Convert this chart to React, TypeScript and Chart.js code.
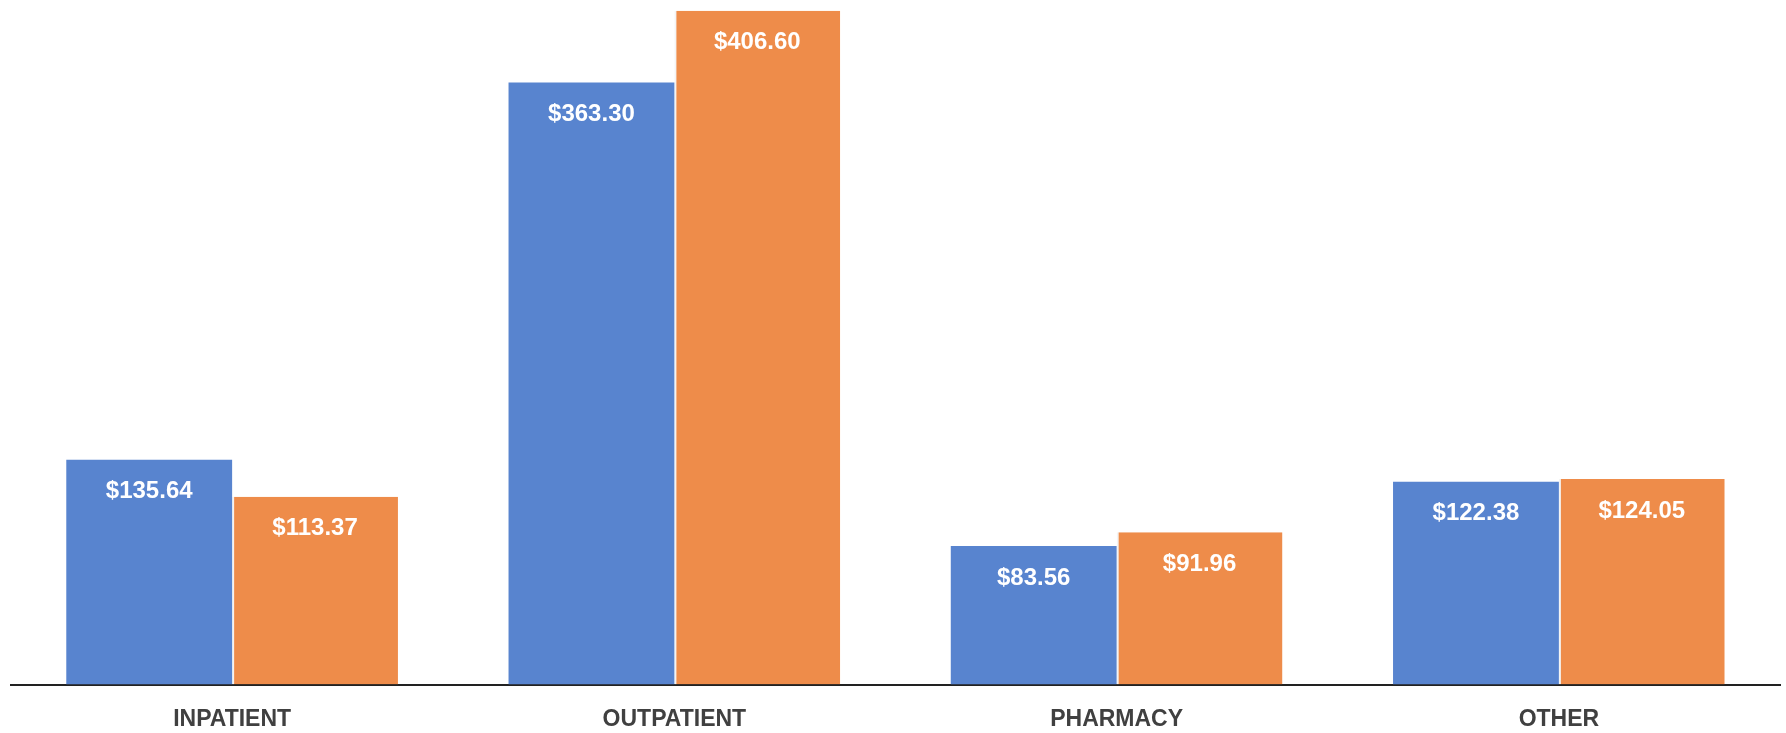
import React, { useEffect, useRef } from "react";
import { Chart, registerables } from "chart.js";

Chart.register(...registerables);

const categories = ["INPATIENT", "OUTPATIENT", "PHARMACY", "OTHER"];
const seriesA = [135.64, 363.3, 83.56, 122.38];
const seriesB = [113.37, 406.6, 91.96, 124.05];
const seriesNames = ["Series A", "Series B"];
const yMax = 410;

const FONT = '"Liberation Sans", Arial, sans-serif';

const valueLabels = {
  id: "valueLabels",
  afterDatasetsDraw(chart: any) {
    const ctx = chart.ctx;
    ctx.save();
    ctx.font = `bold 24px ${FONT}`;
    ctx.fillStyle = "#ffffff";
    ctx.textAlign = "center";
    ctx.textBaseline = "middle";
    chart.data.datasets.forEach((ds: any, i: number) => {
      const meta = chart.getDatasetMeta(i);
      meta.data.forEach((bar: any, j: number) => {
        const v = ds.data[j] as number;
        ctx.fillText("$" + v.toFixed(2), bar.x, bar.y + 32);
      });
    });
    ctx.restore();
  },
};

export default function App() {
  const ref = useRef<HTMLCanvasElement | null>(null);
  useEffect(() => {
    if (!ref.current) return;
    const chart = new Chart(ref.current, {
      type: "bar",
      data: {
        labels: categories,
        datasets: [
          {
            label: seriesNames[0],
            data: seriesA,
            backgroundColor: "#5884CF",
            borderWidth: 0,
            categoryPercentage: 0.75,
            barPercentage: 1,
          },
          {
            label: seriesNames[1],
            data: seriesB,
            backgroundColor: "#EE8C4A",
            borderColor: "#f4f4f4",
            borderWidth: { left: 2, top: 0, right: 0, bottom: 0 },
            borderSkipped: false,
            categoryPercentage: 0.75,
            barPercentage: 1,
          },
        ],
      },
      options: {
        animation: false,
        responsive: false,
        maintainAspectRatio: false,
        layout: { padding: { left: 11, right: 6, top: 5, bottom: 0 } },
        plugins: { legend: { display: false }, tooltip: { enabled: false } },
        scales: {
          x: {
            grid: { display: false, drawTicks: false },
            border: { display: true, color: "#222222", width: 2 },
            ticks: {
              color: "#404040",
              padding: 22,
              font: { family: FONT, size: 23, weight: "bold", lineHeight: 1.15 },
            },
          },
          y: {
            display: false,
            min: 0,
            max: yMax,
          },
        },
      },
      plugins: [valueLabels],
    });
    return () => chart.destroy();
  }, []);
  return (
    <div style={{ position: "absolute", left: 0, top: 0, width: 1786, height: 733, overflow: "hidden", background: "#ffffff" }}>
      <canvas ref={ref} width={1786} height={755} style={{ display: "block" }} />
    </div>
  );
}
